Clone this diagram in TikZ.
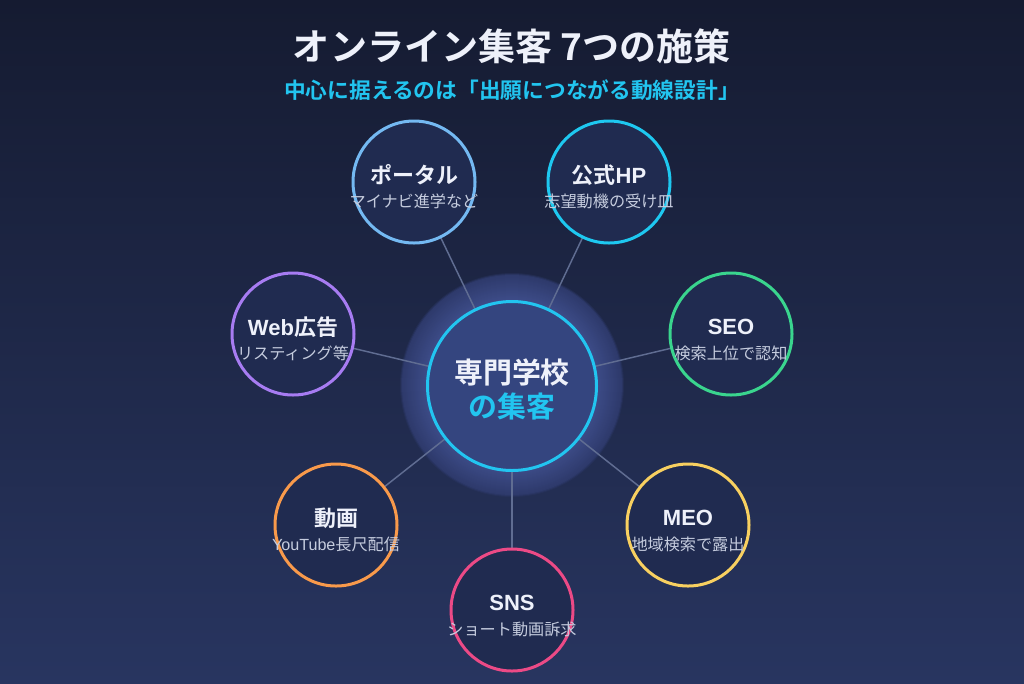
\documentclass[tikz,border=0pt]{standalone}
\usepackage{fontspec}
\setmainfont{Noto Sans CJK JP}[BoldFont={Noto Sans CJK JP Bold}]
\newfontfamily\lat{Liberation Sans}
\definecolor{bgtop}{HTML}{151B31}
\definecolor{bgbot}{HTML}{283560}
\definecolor{glowin}{HTML}{3D4C88}
\definecolor{glowedge}{HTML}{2E3A6C}
\definecolor{cfill}{HTML}{34457F}
\definecolor{cyanc}{HTML}{22C5F0}
\definecolor{sfill}{HTML}{202B50}
\definecolor{linec}{HTML}{606D92}
\definecolor{titlec}{HTML}{EEF1FA}
\definecolor{subc}{HTML}{C5CCDE}
\definecolor{cportal}{HTML}{74B9F2}
\definecolor{chp}{HTML}{1EC8F0}
\definecolor{cweb}{HTML}{A77CF2}
\definecolor{cseo}{HTML}{3AD58E}
\definecolor{cvid}{HTML}{F99A4B}
\definecolor{cmeo}{HTML}{F8D060}
\definecolor{csns}{HTML}{EC4A86}
\pgfdeclarelayer{bg}
\pgfdeclarelayer{edges}
\pgfsetlayers{bg,edges,main}
\tikzset{
  sat/.style={circle, minimum size=91.5pt, inner sep=0pt, fill=sfill, line width=2.25pt},
  stitle/.style={text=titlec, font=\bfseries\fontsize{16.5pt}{18pt}\selectfont, inner sep=0pt},
  ssub/.style={text=subc, font=\fontsize{12.1pt}{13pt}\selectfont, inner sep=0pt},
  conn/.style={draw=linec, line width=1.1pt},
}
\begin{document}
\begin{tikzpicture}[x=0.75pt, y=-0.75pt]
\begin{pgfonlayer}{bg}
\shade[top color=bgtop, bottom color=bgbot] (0,0) rectangle (1024,683);
\fill[glowedge, opacity=0.3] (512,385) circle (112);
\fill[glowedge, opacity=0.6] (512,385) circle (111);
\foreach \i in {0,...,25} {
  \pgfmathtruncatemacro\m{\i*4}
  \fill[glowin!\m!glowedge] (512,385) circle ({110-\i});
}
\end{pgfonlayer}
\useasboundingbox (0,0) rectangle (1024,683);

\node[text=titlec, font=\bfseries\fontsize{27.8pt}{30pt}\selectfont, inner sep=0pt] (title) at (512,46) {オンライン集客 7つの施策};
\node[text=cyanc, font=\bfseries\fontsize{16.3pt}{18pt}\selectfont, inner sep=0pt] (subtitle) at (512,90) {中心に据えるのは「出願につながる動線設計」};

\node[circle, minimum size=126.75pt, inner sep=0pt, fill=cfill, draw=cyanc, line width=2.25pt] (c) at (512,386) {};
\node[text=titlec, font=\bfseries\fontsize{21.7pt}{24pt}\selectfont, inner sep=0pt] (ct1) at (512,372) {専門学校};
\node[text=cyanc, font=\bfseries\fontsize{21.7pt}{24pt}\selectfont, inner sep=0pt] (ct2) at (512,406) {の集客};

\node[sat, draw=cportal] (p1) at (414,182) {};
\node[sat, draw=chp] (p2) at (609,182) {};
\node[sat, draw=cweb] (p3) at (293,334) {};
\node[sat, draw=cseo] (p4) at (731,334) {};
\node[sat, draw=cvid] (p5) at (336,525) {};
\node[sat, draw=cmeo] (p6) at (688,525) {};
\node[sat, draw=csns] (p7) at (512,610) {};

\node[stitle] (p1t) at (414,175) {ポータル};
\node[ssub] (p1s) at (414,201) {マイナビ進学など};
\node[stitle] (p2t) at (609,175) {公式{\lat HP}};
\node[ssub] (p2s) at (609,201) {志望動機の受け皿};
\node[stitle] (p3t) at (293,327) {{\lat Web}広告};
\node[ssub] (p3s) at (293,353) {リスティング等};
\node[stitle] (p4t) at (731,327) {\lat SEO};
\node[ssub] (p4s) at (731,353) {検索上位で認知};
\node[stitle] (p5t) at (336,518) {動画};
\node[ssub] (p5s) at (336,544) {{\lat YouTube}長尺配信};
\node[stitle] (p6t) at (688,518) {\lat MEO};
\node[ssub] (p6s) at (688,544) {地域検索で露出};
\node[stitle] (p7t) at (512,603) {\lat SNS};
\node[ssub] (p7s) at (512,629) {ショート動画訴求};

\begin{pgfonlayer}{edges}
\foreach \p in {p1,p2,p3,p4,p5,p6,p7} \draw[conn] (c.center) -- (\p.center);
\end{pgfonlayer}
\end{tikzpicture}
\end{document}
